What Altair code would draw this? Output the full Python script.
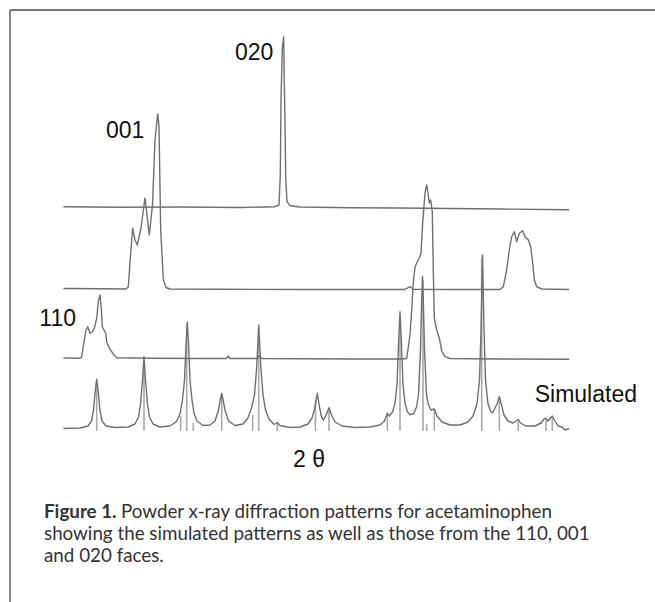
import altair as alt
import pandas as pd

# ---------------- data (2-theta in degrees, intensity above each trace's own baseline) -------------
# 020 face
tt_020 = [11.04, 13.3, 15.7, 18.1, 19.5, 19.66, 19.712, 19.74, 19.792, 19.848, 19.872, 19.9, 19.928,
          19.98, 20.1, 20.5, 22.5, 24.5, 26.5, 28.5, 31.26]
in_020 = [0.3, -0.3, 0, -0.5, 0.3, 2, 32, 105.3, 158.7, 170.3, 125.3, 87, 28.7,
          5.3, 1.3, 0, -0.8, -1, -1.5, -2, -2.7]

# 001 face
tt_001 = [11.04, 12.5, 13.54, 13.632, 13.7, 13.808, 13.9, 13.992, 14.14, 14.3, 14.38, 14.472, 14.6,
          14.7, 14.808, 14.86, 14.928, 15.032, 15.14, 15.3, 17.3, 20.5, 23.7, 24.7, 24.9, 25.02,
          26.5, 28.5, 28.632, 28.768, 28.872, 28.968, 29.072, 29.168, 29.272, 29.408, 29.5, 29.632,
          29.728, 29.808, 29.872, 29.968, 30.168, 31.26]
in_001 = [0.5, 0.3, 0, 2, 27, 60.7, 49, 44, 61, 91, 74, 54, 84,
          149, 175, 163, 59, 10, 1.5, 0, -0.3, -0.5, -0.5, -0.5, 2.3, -0.3,
          -0.5, -0.5, 2.3, 19, 39, 52.3, 57.3, 47.3, 55.7, 58.3, 52.3, 49,
          42.3, 26, 9, 2.3, 0, -0.5]

# 110 face
tt_110 = [11.04, 11.7, 11.768, 11.86, 11.94, 12.008, 12.1, 12.192, 12.272, 12.368, 12.432, 12.5,
          12.552, 12.592, 12.66, 12.728, 12.768, 12.872, 12.968, 13.06, 13.168, 14.5, 16.5, 17.56,
          17.632, 17.7, 18.78, 18.872, 18.98, 20.5, 22.5, 24.5, 24.768, 24.9, 24.968, 25.032, 25.1,
          25.168, 25.272, 25.34, 25.408, 25.5, 25.568, 25.62, 25.672, 25.728, 25.792, 25.832,
          25.872, 25.968, 26.072, 26.168, 26.3, 26.5, 28.5, 31.26]
in_110 = [1, 0.7, 2, 17.3, 29, 32.3, 25.7, 27.3, 30.7, 40.7, 57.3, 64,
          50.7, 32.3, 29, 25.7, 17.3, 10.7, 7.3, 4, 1.3, 0.7, 0.5, 0.5,
          3, 0.5, 0.5, 3.3, 0.4, 0.2, 0, 0, 0.5, 24, 49, 77, 92,
          96, 101, 106, 136, 166, 174, 166, 156, 159, 147.3, 89,
          41, 29, 21, 8, 2.3, 0.5, 0, -0.3]

# Simulated pattern (profile)
tt_sim = [11.04, 11.7, 12.02, 12.16, 12.24, 12.3, 12.368, 12.436, 12.496, 12.58, 12.74, 13.1,
          13.62, 13.9, 14.04, 14.12, 14.2, 14.26, 14.32, 14.4, 14.48, 14.62, 14.9, 15.3, 15.54,
          15.7, 15.8, 15.88, 15.94, 15.992, 16.044, 16.1, 16.18, 16.26, 16.38, 16.62, 16.9, 17.1,
          17.24, 17.312, 17.368, 17.424, 17.5, 17.64, 17.9, 18.22, 18.42, 18.56, 18.68, 18.76,
          18.812, 18.848, 18.888, 18.94, 19.02, 19.12, 19.26, 19.46, 19.592, 19.7, 20.1, 20.5,
          20.82, 20.98, 21.1, 21.192, 21.28, 21.36, 21.44, 21.54, 21.66, 21.76, 21.9, 22.18, 22.7,
          23.3, 23.7, 23.88, 23.992, 24.08, 24.2, 24.3, 24.38, 24.448, 24.5, 24.552, 24.62, 24.7,
          24.8, 24.9, 25.04, 25.16, 25.24, 25.32, 25.368, 25.4, 25.432, 25.48, 25.56, 25.64, 25.74,
          25.872, 25.98, 26.18, 26.5, 26.9, 27.22, 27.42, 27.58, 27.68, 27.74, 27.8, 27.86, 27.92,
          28.02, 28.14, 28.2, 28.38, 28.472, 28.56, 28.66, 28.82, 29.02, 29.14, 29.232, 29.32,
          29.54, 29.9, 30.14, 30.26, 30.34, 30.42, 30.52, 30.592, 30.68, 30.82, 30.98, 31.1, 31.26]
in_sim = [0, 0.5, 2.5, 7.5, 18.5, 35.5, 49.2, 35.5, 18.5, 7.5, 2.5, 1,
          1.5, 4.5, 11.5, 24.5, 48.5, 71.8, 48.5, 24.5, 11.5, 4.5, 1.5, 2.5, 6.5,
          14.5, 28.5, 48.5, 83.5, 106.2, 83.5, 48.5, 28.5, 15.5, 7.5, 3, 3.5, 7.5,
          18.5, 28.5, 35.2, 28.5, 18.5, 7.5, 3, 4.5, 10.5, 20.5, 33.5, 58.5,
          83.5, 103.5, 83.5, 58.5, 33.5, 18.5, 9.5, 4, 6, 3, 1, 1.5,
          4.5, 10.5, 21.5, 35.2, 21.5, 11.5, 8.5, 13.5, 20.8, 13.5, 6.5, 2.5, 1,
          1.5, 3.5, 7.5, 15.2, 12.5, 16.5, 25.5, 43.5, 88.5, 116.8, 88.5, 43.5, 25.5,
          16.5, 14, 14.5, 21.5, 33.5, 78.5, 128.5, 152, 128.5, 78.5, 33.5, 23.5, 18.5,
          19.5, 12.5, 6.5, 3.5, 3.5, 6.5, 12.5, 24.5, 48.5, 98.5, 173.5, 98.5, 48.5,
          24.5, 16.5, 15.5, 24.5, 31.8, 23.5, 13.5, 7.5, 5.5, 7.5, 9, 5.5,
          2.5, 2.5, 5.5, 9.5, 10.2, 7.5, 10.5, 12.5, 8.5, 2.5, 1.5, -1.5, 0]

# Simulated reflection positions (sticks)
stick_tt = [12.368, 14.26, 15.728, 15.968, 16.232, 17.368, 18.608, 18.848, 19.592, 21.12, 21.66,
            23.992, 24.5, 25.42, 25.568, 25.872, 27.768, 28.472, 29.232, 30.34, 30.592]
stick_top = [46.5, 68.5, 12.5, 103.5, 5.5, 32.5, 13.5, 100.5, 4.5, 28.5, 18.5,
             13.5, 113.5, 148.5, 4.5, 18.5, 170.5, 29.5, 7.5, 8.5, 10.5]
stick_base = -2.5

# vertical offsets of the stacked patterns
series_names = ["Simulated", "110", "001", "020"]
series_offsets = [0, 69.5, 139.5, 221.5]

# labels
label_text = ["020", "001", "Simulated"]
label_tt = [17.9, 12.74, 29.888]
label_y = [368.5, 290.2, 26.8]
label110_tt, label110_y = 11.54, 103.0

axis_title = "2 \u03b8"
axis_title_tt, axis_title_y = 20.22, -38.2

caption_bold = "Figure 1."
caption_lines = ["Powder x-ray diffraction patterns for acetaminophen",
                 "showing the simulated patterns as well as those from the 110, 001",
                 "and 020 faces."]
caption_tt = [13.34, 10.26, 10.26]
caption_y = [-89.5, -111.5, -133.5]
caption_bold_tt = 10.26

# ---------------- build ----------------
frames = []
for name, tt, ii, off in zip(series_names, [tt_sim, tt_110, tt_001, tt_020],
                             [in_sim, in_110, in_001, in_020], series_offsets):
    frames.append(pd.DataFrame({"series": name, "two_theta": tt, "intensity": ii, "offset": off}))
traces = pd.concat(frames, ignore_index=True)

sticks = pd.DataFrame({"two_theta": stick_tt, "top": stick_top, "base": stick_base})

X_DOMAIN = [8.5, 34.7]
Y_DOMAIN = [-173.5, 428.5]
xs = alt.Scale(domain=X_DOMAIN, nice=False, zero=False)
ys = alt.Scale(domain=Y_DOMAIN, nice=False, zero=False)

frame_df = pd.DataFrame({"x": [8.9, 8.9], "x2": [X_DOMAIN[1], 8.9],
                         "y": [418.5, 418.5], "y2": [418.5, Y_DOMAIN[0]]})
frame = alt.Chart(frame_df).mark_rule(color="#4a4a4a", strokeWidth=1.3).encode(
    x=alt.X("x:Q", scale=xs, axis=None), x2="x2:Q",
    y=alt.Y("y:Q", scale=ys, axis=None), y2="y2:Q")

stick_layer = alt.Chart(sticks).mark_rule(color="#a9a9a9", strokeWidth=1.6).encode(
    x=alt.X("two_theta:Q", scale=xs, axis=None),
    y=alt.Y("top:Q", scale=ys, axis=None), y2="base:Q")

lines = alt.Chart(traces).transform_calculate(
    y="datum.intensity + datum.offset"
).mark_line(color="#6f6f6f", strokeWidth=1.4, strokeJoin="round").encode(
    x=alt.X("two_theta:Q", scale=xs, axis=None),
    y=alt.Y("y:Q", scale=ys, axis=None),
    detail="series:N")

lab_df = pd.DataFrame({"text": label_text, "x": label_tt, "y": label_y})
labels = alt.Chart(lab_df).mark_text(align="left", baseline="alphabetic", font="Liberation Sans",
                                     fontSize=23, color="#111111").encode(
    x=alt.X("x:Q", scale=xs, axis=None), y=alt.Y("y:Q", scale=ys, axis=None), text="text:N")

lab110 = alt.Chart(pd.DataFrame({"text": ["110"], "x": [label110_tt], "y": [label110_y]})).mark_text(
    align="right", baseline="alphabetic", font="Liberation Sans", fontSize=23, color="#111111").encode(
    x=alt.X("x:Q", scale=xs, axis=None), y=alt.Y("y:Q", scale=ys, axis=None), text="text:N")

xtitle = alt.Chart(pd.DataFrame({"text": [axis_title], "x": [axis_title_tt], "y": [axis_title_y]})).mark_text(
    align="left", baseline="alphabetic", font="Liberation Sans", fontSize=23, color="#111111").encode(
    x=alt.X("x:Q", scale=xs, axis=None), y=alt.Y("y:Q", scale=ys, axis=None), text="text:N")

CAP_FONT = "Lato"
cap_df = pd.DataFrame({"text": caption_lines, "x": caption_tt, "y": caption_y})
caption = alt.Chart(cap_df).mark_text(align="left", baseline="alphabetic", font=CAP_FONT,
                                      fontSize=18.8, color="#333333").encode(
    x=alt.X("x:Q", scale=xs, axis=None), y=alt.Y("y:Q", scale=ys, axis=None), text="text:N")
cap_bold = alt.Chart(pd.DataFrame({"text": [caption_bold], "x": [caption_bold_tt], "y": [caption_y[0]]})).mark_text(
    align="left", baseline="alphabetic", font=CAP_FONT, fontSize=18.8, fontWeight="bold",
    color="#333333").encode(
    x=alt.X("x:Q", scale=xs, axis=None), y=alt.Y("y:Q", scale=ys, axis=None), text="text:N")

chart = alt.layer(frame, stick_layer, lines, labels, lab110, xtitle, caption, cap_bold).properties(
    width=655, height=602, padding=0,
    autosize=alt.AutoSizeParams(type="none"),
    background="white",
).configure_view(stroke=None)

chart.save("out.html", embed_options={"renderer": "svg", "actions": False})
